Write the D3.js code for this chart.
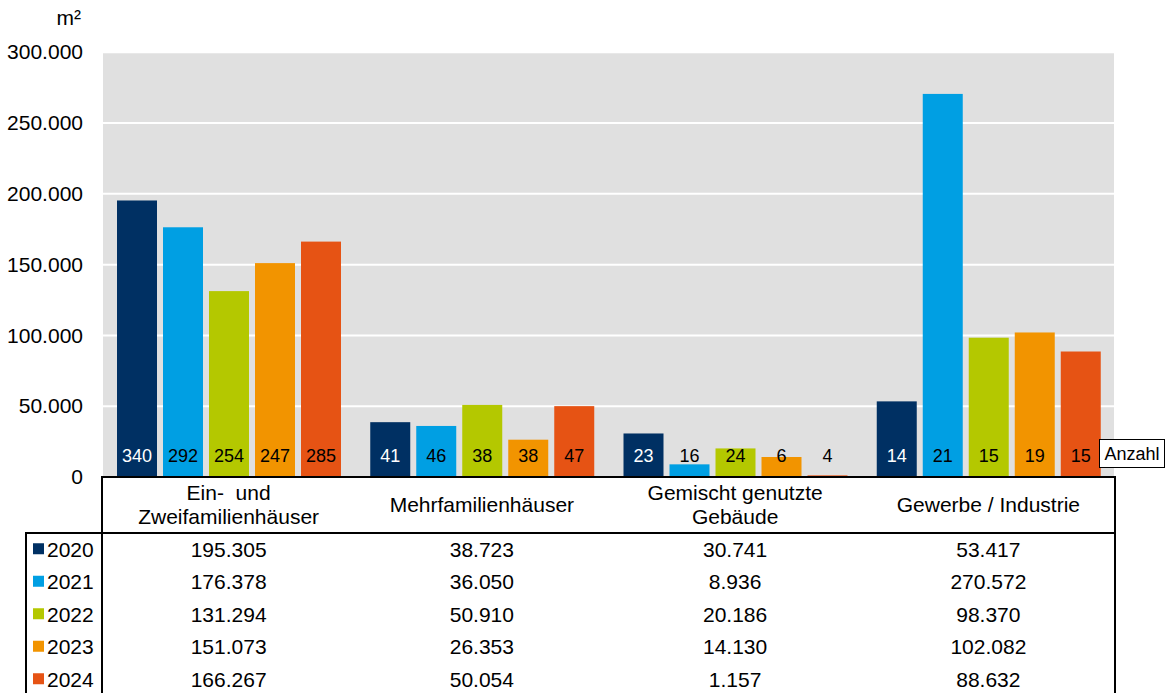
<!DOCTYPE html>
<html>
<head>
<meta charset="utf-8">
<script src="https://cdn.jsdelivr.net/npm/d3@7"></script>
<style>
  html, body { margin: 0; padding: 0; background: #fff; }
  svg { display: block; font-family: "Liberation Sans", Arial, sans-serif; }
</style>
</head>
<body>
<svg id="chart" width="1169" height="693"></svg>
<script>
// ---- data ----
const categories = [["Ein-\u00a0 und", "Zweifamilienhäuser"], ["Mehrfamilienhäuser"], ["Gemischt genutzte", "Gebäude"], ["Gewerbe / Industrie"]];
const years = ["2020", "2021", "2022", "2023", "2024"];
const area2020 = [195305, 38723, 30741, 53417];
const area2021 = [176378, 36050, 8936, 270572];
const area2022 = [131294, 50910, 20186, 98370];
const area2023 = [151073, 26353, 14130, 102082];
const area2024 = [166267, 50054, 1157, 88632];
const count2020 = [340, 41, 23, 14];
const count2021 = [292, 46, 16, 21];
const count2022 = [254, 38, 24, 15];
const count2023 = [247, 38, 6, 19];
const count2024 = [285, 47, 4, 15];
const yTicks = [0, 50000, 100000, 150000, 200000, 250000, 300000];
const yTickLabels = ["0", "50.000", "100.000", "150.000", "200.000", "250.000", "300.000"];
const colors = ["#003063", "#009fe3", "#b4c800", "#f29400", "#e65314"];
const countLabelColors = ["#ffffff", "#000000", "#000000", "#000000", "#000000"];

const areas = [area2020, area2021, area2022, area2023, area2024];
const counts = [count2020, count2021, count2022, count2023, count2024];
const fmt = v => d3.format(",")(v).replace(/,/g, ".");

// ---- layout ----
const svg = d3.select("#chart");
const pLeft = 102, pRight = 1115, pTop = 52.25, pBottom = 477;

const x0 = d3.scaleBand().domain(d3.range(categories.length)).range([pLeft, pRight]).padding(0);
const x1 = d3.scaleBand().domain(years).range([15, 239]).paddingInner(6 / 46).paddingOuter(0);
const y = d3.scaleLinear().domain([0, 300000]).range([pBottom, pTop]);

// plot background
svg.append("rect").attr("x", pLeft + 1).attr("y", pTop).attr("width", pRight - pLeft - 2).attr("height", pBottom - pTop)
  .attr("fill", "#e0e0e0");

// gridlines
svg.append("g").selectAll("line").data(yTicks.filter(d => d > 0)).join("line")
  .attr("x1", pLeft + 1).attr("x2", pRight - 1)
  .attr("y1", d => y(d)).attr("y2", d => y(d))
  .attr("stroke", "#ffffff").attr("stroke-width", 2);

// y axis labels
const yAxis = d3.axisLeft(y).tickValues(yTicks).tickSize(0).tickPadding(0)
  .tickFormat((d, i) => yTickLabels[i]);
const gy = svg.append("g").attr("transform", "translate(83,0)").call(yAxis);
gy.select(".domain").remove();
gy.selectAll("text").attr("font-size", 21).attr("fill", "#000").attr("font-family", "Liberation Sans, Arial, sans-serif");

svg.append("text").attr("x", 81).attr("y", 25).attr("text-anchor", "end")
  .attr("font-size", 21).text("m²");

// bars
const groups = svg.append("g").selectAll("g").data(categories).join("g")
  .attr("transform", (d, i) => `translate(${x0(i)},0)`);

years.forEach((yr, k) => {
  groups.append("rect")
    .attr("x", x1(yr))
    .attr("width", x1.bandwidth())
    .attr("y", (d, i) => y(areas[k][i]))
    .attr("height", (d, i) => pBottom - y(areas[k][i]))
    .attr("fill", colors[k]);
  groups.append("text")
    .attr("x", x1(yr) + x1.bandwidth() / 2)
    .attr("y", 462)
    .attr("text-anchor", "middle")
    .attr("font-size", 18)
    .attr("fill", (d, i) => (areas[k][i] > 12000 ? countLabelColors[k] : "#000"))
    .text((d, i) => counts[k][i]);
});

// "Anzahl" label box
svg.append("rect").attr("x", 1099.5).attr("y", 439.5).attr("width", 65).attr("height", 28)
  .attr("fill", "#fff").attr("stroke", "#000").attr("stroke-width", 1);
svg.append("text").attr("x", 1132).attr("y", 460).attr("text-anchor", "middle")
  .attr("font-size", 18).text("Anzahl");

// ---- data table ----
const tbl = svg.append("g");
const headerTop = 477, headerBottom = 533, legendLeft = 26, rowH = 32.5;
tbl.append("rect").attr("x", pLeft).attr("y", headerTop).attr("width", pRight - pLeft).attr("height", 693 - headerTop)
  .attr("fill", "#fff");
tbl.append("rect").attr("x", legendLeft).attr("y", headerBottom).attr("width", pLeft - legendLeft).attr("height", 693 - headerBottom)
  .attr("fill", "#fff");

// category headers
categories.forEach((lines, i) => {
  const cx = x0(i) + x0.bandwidth() / 2;
  const n = lines.length;
  const t = tbl.append("text").attr("text-anchor", "middle").attr("font-size", 21);
  lines.forEach((ln, j) => {
    t.append("tspan").attr("x", cx)
      .attr("y", (headerTop + headerBottom) / 2 + 7 + (j - (n - 1) / 2) * 24)
      .text(ln);
  });
});

// rows
years.forEach((yr, k) => {
  const cy = headerBottom + rowH * k + rowH / 2;
  tbl.append("rect").attr("x", 33).attr("y", cy - 6).attr("width", 11).attr("height", 11).attr("fill", colors[k]);
  tbl.append("text").attr("x", 47).attr("y", cy + 7.5).attr("font-size", 21).text(yr);
  categories.forEach((c, i) => {
    tbl.append("text").attr("x", x0(i) + x0.bandwidth() / 2).attr("y", cy + 7.5)
      .attr("text-anchor", "middle").attr("font-size", 21).text(fmt(areas[k][i]));
  });
});

// table lines
const tLines = [
  [pLeft, headerTop, pRight, headerTop],
  [legendLeft, headerBottom, pRight, headerBottom],
  [pLeft, headerTop, pLeft, 693],
  [pRight, headerTop, pRight, 693],
  [legendLeft, headerBottom, legendLeft, 693]
];
tbl.selectAll("line.tl").data(tLines).join("line")
  .attr("x1", d => d[0]).attr("y1", d => d[1]).attr("x2", d => d[2]).attr("y2", d => d[3])
  .attr("stroke", "#000").attr("stroke-width", 2).attr("stroke-linecap", "square");
</script>
</body>
</html>
